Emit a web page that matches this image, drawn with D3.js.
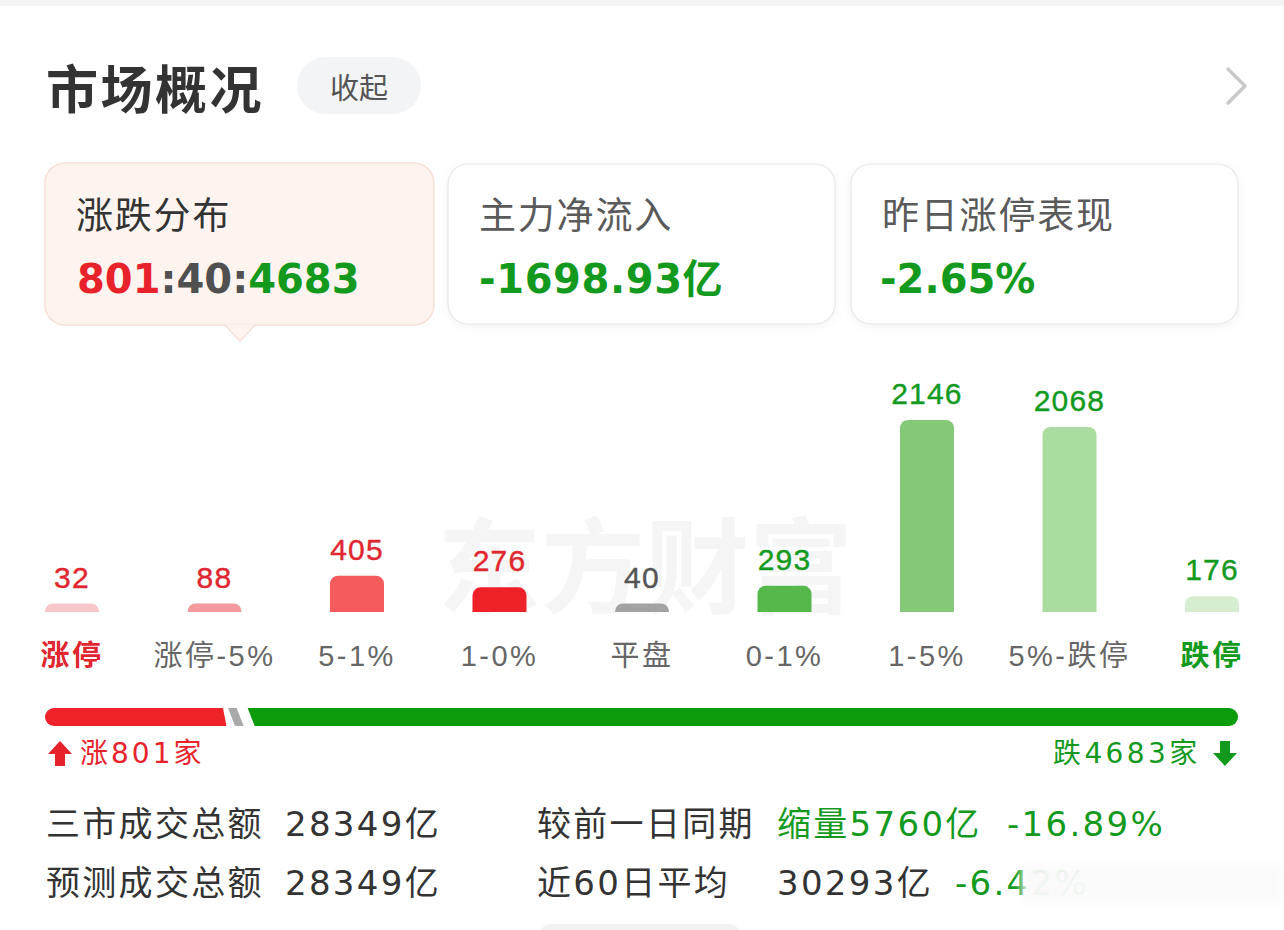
<!DOCTYPE html>
<html><head><meta charset="utf-8">
<script src="https://cdn.jsdelivr.net/npm/d3@7"></script>
<style>html,body{margin:0;padding:0;background:#fff;} svg{display:block;}</style>
</head><body>
<svg id="c" width="1284" height="930"></svg>
<script>
// ---------- data ----------
const categories = ["涨停","涨停-5%","5-1%","1-0%","平盘","0-1%","1-5%","5%-跌停","跌停"];
const counts = [32, 88, 405, 276, 40, 293, 2146, 2068, 176];
const groups = ["up","up","up","up","flat","down","down","down","down"];
const barColors = ["#f8c6c9","#f29a9e","#f45b5d","#ee2129","#a3a3a3","#55b84a","#84c977","#aadb9f","#d6eecf"];
const cardTitles = ["涨跌分布","主力净流入","昨日涨停表现"];
const netInflow = "-1698.93亿";
const limitUpPerf = "-2.65%";
const turnoverLabels = ["三市成交总额","预测成交总额"];
const turnoverValues = ["28349亿","28349亿"];
const compareLabels = ["较前一日同期","近60日平均"];
const compareValues = ["缩量5760亿","30293亿"];
const compareChanges = ["-16.89%","-6.42%"];

// ---------- styles ----------
const RED = "#e5232b", GREEN = "#139a1e", GRAY = "#555", DARK = "#333";
const NUM = "'Liberation Sans','Noto Sans CJK SC',sans-serif";
const CJK = "'Noto Sans CJK SC',sans-serif";
const MIX = "'DejaVu Sans','Noto Sans CJK SC',sans-serif";

const svg = d3.select("#c");
const defs = svg.append("defs");
const sh = defs.append("filter").attr("id","sh").attr("x","-10%").attr("y","-10%").attr("width","120%").attr("height","130%");
sh.append("feDropShadow").attr("dx",0).attr("dy",2).attr("stdDeviation",4).attr("flood-color","#000").attr("flood-opacity",0.05);
const bl = defs.append("filter").attr("id","bl").attr("x","-10%").attr("y","-50%").attr("width","120%").attr("height","200%");
bl.append("feGaussianBlur").attr("stdDeviation",4);

// top strip
svg.append("rect").attr("x",0).attr("y",0).attr("width",1284).attr("height",6).attr("fill","#f3f3f3");

// header
svg.append("text").attr("x",46).attr("y",86).attr("dominant-baseline","central")
  .attr("font-family",CJK).attr("font-size",52).attr("letter-spacing",2.5).attr("font-weight",700).attr("fill",DARK).text("市场概况");
svg.append("rect").attr("x",297).attr("y",57).attr("width",124).attr("height",57).attr("rx",28.5).attr("fill","#f3f4f6");
svg.append("text").attr("x",359).attr("y",86).attr("text-anchor","middle").attr("dominant-baseline","central")
  .attr("font-family",CJK).attr("font-size",29).attr("fill","#555").text("收起");
svg.append("polyline").attr("points","1228,69 1245,86 1228,103").attr("fill","none")
  .attr("stroke","#c9c9c9").attr("stroke-width",3.5).attr("stroke-linecap","round").attr("stroke-linejoin","round");

// cards
const cardX = [45, 448, 851], cardW = 388;
cardX.forEach((x,i) => {
  const g = svg.append("g");
  if (i === 0) {
    g.append("rect").attr("x",x).attr("y",163).attr("width",cardW+1).attr("height",162).attr("rx",20)
      .attr("fill","#fdf4ef").attr("stroke","#f6e0d6").attr("stroke-width",1.5);
    g.append("path").attr("d","M224,324.5 L240,341 L256,324.5").attr("fill","#fdf4ef").attr("stroke","#f6e0d6").attr("stroke-width",1.5);
    g.append("rect").attr("x",222).attr("y",321).attr("width",36).attr("height",3.2).attr("fill","#fdf4ef");
  } else {
    g.append("rect").attr("x",x).attr("y",164).attr("width",cardW-1).attr("height",160).attr("rx",20)
      .attr("fill","#fff").attr("stroke","#e6e6e6").attr("stroke-width",1.2).attr("filter","url(#sh)");
  }
  g.append("text").attr("x",x+31).attr("y",213).attr("dominant-baseline","central")
    .attr("font-family",CJK).attr("font-size",37).attr("letter-spacing",1.8)
    .attr("fill", i===0 ? DARK : "#5a5a5a").text(cardTitles[i]);
});

// card values
const ups = d3.sum(counts.filter((d,i)=>groups[i]==="up"));
const flats = d3.sum(counts.filter((d,i)=>groups[i]==="flat"));
const downs = d3.sum(counts.filter((d,i)=>groups[i]==="down"));
const v1 = svg.append("text").attr("x",77).attr("y",293).attr("font-family","'DejaVu Sans',sans-serif")
  .attr("font-size",40).attr("font-weight",700);
v1.append("tspan").attr("fill","#e8222b").text(ups);
v1.append("tspan").attr("fill","#505050").text(":" + flats + ":");
v1.append("tspan").attr("fill",GREEN).text(downs);
svg.append("text").attr("x",479).attr("y",293).attr("font-family",MIX).attr("font-size",40).attr("font-weight",700)
  .attr("letter-spacing",0.6).attr("fill",GREEN).text(netInflow);
svg.append("text").attr("x",880).attr("y",293).attr("font-family",MIX).attr("font-size",40).attr("font-weight",700)
  .attr("fill",GREEN).text(limitUpPerf);

// watermark
svg.append("text").attr("x",645).attr("y",560).attr("text-anchor","middle").attr("dominant-baseline","central")
  .attr("font-family",CJK).attr("font-size",104).attr("font-weight",700).attr("fill","#000").attr("opacity",0.035)
  .text("东方财富");

// bars
const x = d3.scaleBand().domain(categories).range([45, 1239]).paddingInner(0.621).paddingOuter(0);
const y = d3.scaleLinear().domain([0, d3.max(counts)]).range([612, 420]);
const minH = 8.5;
function topRounded(x0, y0, w, h, r) {
  r = Math.min(r, h, w/2);
  return `M${x0},${y0+h}V${y0+r}A${r},${r} 0 0 1 ${x0+r},${y0}H${x0+w-r}A${r},${r} 0 0 1 ${x0+w},${y0+r}V${y0+h}Z`;
}
const data = categories.map((c,i)=>({c, v:counts[i], g:groups[i], col:barColors[i]}));
const bars = svg.append("g");
bars.selectAll("path").data(data).join("path")
  .attr("d", d => { const h = Math.max(minH, y(0)-y(d.v)); return topRounded(x(d.c), y(0)-h, x.bandwidth(), h, 8); })
  .attr("fill", d => d.col);
bars.selectAll("text.val").data(data).join("text").attr("class","val")
  .attr("x", d => x(d.c) + x.bandwidth()/2)
  .attr("y", d => y(0) - Math.max(minH, y(0)-y(d.v)) - 16)
  .attr("text-anchor","middle").attr("font-family",NUM).attr("font-size",30).attr("letter-spacing",1.2)
  .attr("stroke-width",0.4)
  .attr("fill", d => d.g==="up" ? "#e0262e" : d.g==="flat" ? "#555" : GREEN)
  .attr("stroke", d => d.g==="up" ? "#e0262e" : d.g==="flat" ? "#555" : GREEN)
  .text(d => d.v);
bars.selectAll("text.cat").data(data).join("text").attr("class","cat")
  .attr("x", d => x(d.c) + x.bandwidth()/2).attr("y",666)
  .attr("text-anchor","middle").attr("font-family",NUM).attr("font-size",29).attr("letter-spacing",2.5)
  .attr("font-weight", (d,i) => (i===0 || i===categories.length-1) ? 700 : 400)
  .attr("fill", (d,i) => i===0 ? "#e0262e" : i===categories.length-1 ? GREEN : "#666")
  .text(d => d.c);

// ratio bar
const total = ups + flats + downs;
const xs = d3.scaleLinear().domain([0, total]).range([45, 1238]);
const pbY = 708, pbH = 18, sl = 7;
const redEnd = xs(ups) + 5;
svg.append("path").attr("fill","#ee2228")
  .attr("d", `M${45+9},${pbY}H${redEnd}L${redEnd+sl/2},${pbY+pbH}H${45+9}A9,9 0 0 1 ${45+9},${pbY}Z`);
const gS = redEnd + 5, gE = gS + Math.max(7, xs(flats)-xs(0));
svg.append("path").attr("fill","#a9a9a9")
  .attr("d", `M${gS},${pbY}H${gE}L${gE+sl},${pbY+pbH}H${gS+sl}Z`);
const grS = gE + 11;
svg.append("path").attr("fill","#0b9b0b")
  .attr("d", `M${grS},${pbY}H${1238-9}A9,9 0 0 1 ${1238-9},${pbY+pbH}H${grS+sl}Z`);

// up / down counts
svg.append("path").attr("fill","#e8222b").attr("d","M60,741 L72,754 L65,754 L65,766 L55,766 L55,754 L48,754 Z");
svg.append("text").attr("x",80).attr("y",753).attr("dominant-baseline","central").attr("font-family",MIX)
  .attr("font-size",28).attr("letter-spacing",3).attr("fill","#e8222b").text("涨" + ups + "家");
svg.append("path").attr("fill",GREEN).attr("d","M1225,766 L1237,753 L1230,753 L1230,741 L1220,741 L1220,753 L1213,753 Z");
svg.append("text").attr("x",1053).attr("y",753).attr("dominant-baseline","central").attr("font-family",MIX)
  .attr("font-size",28).attr("letter-spacing",3.4).attr("fill",GREEN).text("跌" + downs + "家");

// bottom stats
const rowY = [824, 883];
rowY.forEach((ry,i) => {
  const t = (xx, s, col) => svg.append("text").attr("x",xx).attr("y",ry).attr("dominant-baseline","central")
    .attr("font-family",MIX).attr("font-size",34).attr("letter-spacing",2.3).attr("fill",col).text(s);
  t(46, turnoverLabels[i], DARK);
  t(285, turnoverValues[i], DARK);
  t(537, compareLabels[i], DARK);
  t(777, compareValues[i], i===0 ? GREEN : DARK);
  t(i===0 ? 1007 : 955, compareChanges[i], GREEN);
});
// fade overlay at bottom right
svg.append("rect").attr("x",1022).attr("y",864).attr("width",262).attr("height",40).attr("fill","#fafafa")
  .attr("opacity",0.96).attr("filter","url(#bl)");
svg.append("rect").attr("x",540).attr("y",924).attr("width",200).attr("height",20).attr("rx",10).attr("fill","#f1f1f1");
</script>
</body></html>
